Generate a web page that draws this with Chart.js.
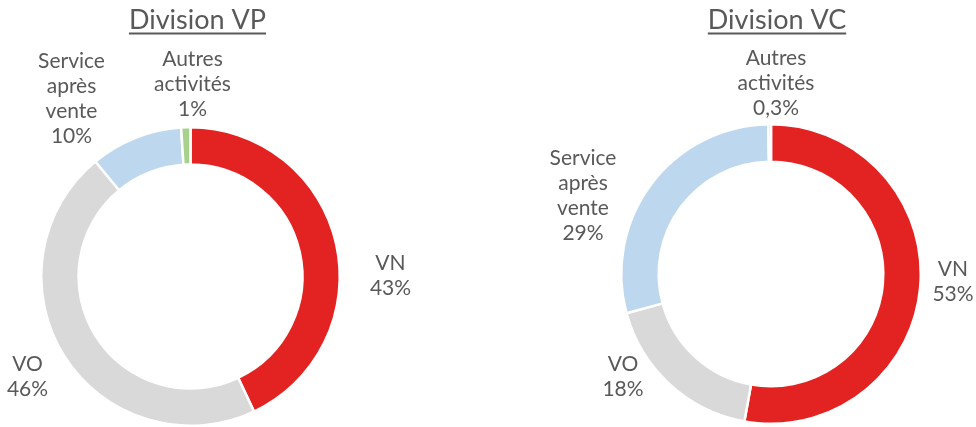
<!DOCTYPE html>
<html>
<head>
<meta charset="utf-8">
<script src="https://cdn.jsdelivr.net/npm/chart.js@4.4.1/dist/chart.umd.min.js"></script>
<style>
  html, body { margin: 0; padding: 0; background: #fff; }
  .wrap { position: relative; width: 976px; height: 427px; }
  .box { position: absolute; top: 0; width: 488px; height: 427px; }
</style>
</head>
<body>
<div class="wrap">
  <div class="box" style="left:0"><canvas id="vp"></canvas></div>
  <div class="box" style="left:488px"><canvas id="vc"></canvas></div>
</div>
<script>
// Categories and shares (%)
const categories = ['VN', 'VO', 'Service après vente', 'Autres activités'];
const valuesVP = [43, 46, 10, 1];
const valuesVC = [53, 18, 29, 0.3];
const colors = ['#E32322', '#D9D9D9', '#BDD7EE', '#A9D18E'];

// Label block centres, offset from the doughnut centre (px)
const labelOffsetsVP = [[200, -1], [-163, 100], [-119, -178], [2, -192]];
const labelOffsetsVC = [[182, 8], [-148, 103], [-188, -78], [5, -191]];

const textColor = '#595959';
const fontFamily = 'Lato, "Open Sans", sans-serif';

function fmtPct(v) {
    return String(v).replace('.', ',') + '%';
}

// Draws the underlined title and the category labels round the ring
const donutText = {
    id: 'donutText',
    afterDraw(chart, args, opts) {
        const ctx = chart.ctx;
        const arc = chart.getDatasetMeta(0).data[0];
        const cx = arc.x, cy = arc.y;

        ctx.save();
        ctx.fillStyle = textColor;
        ctx.strokeStyle = textColor;
        ctx.textAlign = 'center';
        ctx.textBaseline = 'middle';

        // title
        ctx.font = '27px ' + fontFamily;
        const tx = cx + opts.titleDx;
        ctx.fillText(opts.title, tx, 20);
        const w = ctx.measureText(opts.title).width;
        ctx.lineWidth = 2;
        ctx.beginPath();
        ctx.moveTo(tx - w / 2, 33.5);
        ctx.lineTo(tx + w / 2, 33.5);
        ctx.stroke();

        // labels
        ctx.font = '21px ' + fontFamily;
        const values = chart.data.datasets[0].data;
        chart.data.labels.forEach(function(label, i) {
            const lines = label.split(' ').concat([fmtPct(values[i])]);
            const lh = 25;
            const off = opts.offsets[i];
            const top = cy + off[1] - (lines.length - 1) * lh / 2;
            lines.forEach(function(line, j) {
                ctx.fillText(line, cx + off[0], top + j * lh);
            });
        });
        ctx.restore();
    }
};

function makeDonut(id, values, title, titleDx, offsets, padding) {
    return new Chart(document.getElementById(id), {
        type: 'doughnut',
        data: {
            labels: categories,
            datasets: [{
                data: values,
                backgroundColor: colors,
                borderColor: '#ffffff',
                borderWidth: 2.5
            }]
        },
        options: {
            responsive: false,
            animation: false,
            cutout: '75%',
            layout: { padding: padding },
            plugins: {
                legend: { display: false },
                tooltip: { enabled: false },
                donutText: { title: title, titleDx: titleDx, offsets: offsets }
            }
        },
        plugins: [donutText]
    });
}

['vp', 'vc'].forEach(function(id) {
    const c = document.getElementById(id);
    c.width = 488;
    c.height = 427;
});

makeDonut('vp', valuesVP, 'Division VP', 7, labelOffsetsVP,
    { left: 40, right: 147, top: 126, bottom: 0 });
makeDonut('vc', valuesVC, 'Division VC', 6, labelOffsetsVC,
    { left: 132, right: 54, top: 123, bottom: 2 });
</script>
</body>
</html>
